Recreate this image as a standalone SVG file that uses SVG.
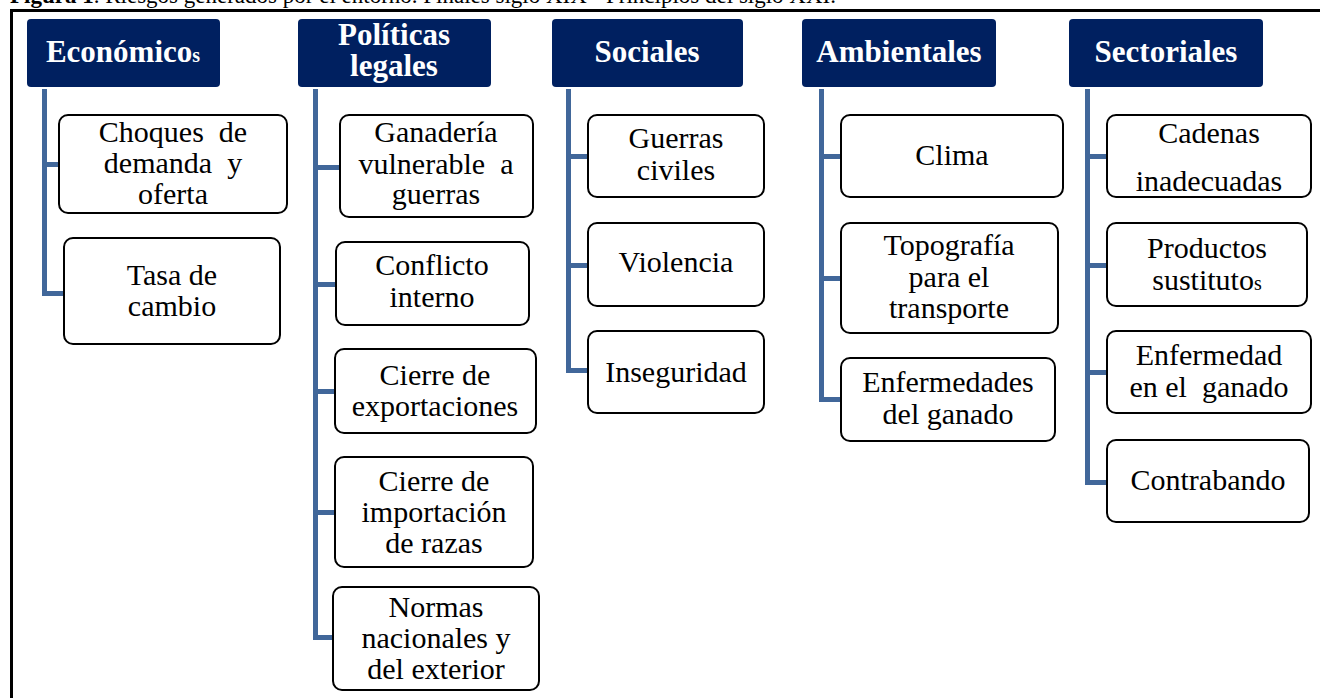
<svg xmlns="http://www.w3.org/2000/svg" width="1320" height="698" viewBox="0 0 1320 698" font-family="'Liberation Serif', 'Times New Roman', Times, serif">
<style>
.frame{fill:none;stroke:#000;stroke-width:3}
.hdr{fill:#002060}
.ht{font-family:'Liberation Serif','Times New Roman',Times,serif;font-weight:bold;font-size:31px;fill:#fff;text-anchor:middle}
.box{fill:#fff;stroke:#000;stroke-width:2}
.bt{font-family:'Liberation Serif','Times New Roman',Times,serif;font-size:30px;fill:#000;text-anchor:middle}
.pre{white-space:pre}
.conn{fill:none;stroke:#41679A;stroke-width:5;stroke-linejoin:miter}
.cap{font-family:'Liberation Serif','Times New Roman',Times,serif;font-size:23px;fill:#000}
.sm{font-size:20px}
</style>
<rect width="1320" height="698" fill="#fff"/>
<text class="cap" x="10" y="3"><tspan font-weight="bold">Figura 1</tspan>. Riesgos generados por el entorno. Finales siglo XIX - Principios del siglo XXI.</text>
<path class="frame" d="M11.5 710 V10.5 H1330"/>
<g id="connectors">
<path class="conn" d="M44.5 89 V293.5 H64 M44.5 164.5 H59"/>
<path class="conn" d="M315.5 89 V637.5 H333 M315.5 167.5 H340 M315.5 284.5 H336 M315.5 391.5 H335 M315.5 512.5 H335"/>
<path class="conn" d="M568.5 89 V370.5 H588 M568.5 156.5 H588 M568.5 265.5 H588"/>
<path class="conn" d="M821.5 89 V399.5 H841 M821.5 156.5 H841 M821.5 278.5 H841"/>
<path class="conn" d="M1087.5 89 V482.5 H1107 M1087.5 156.5 H1107 M1087.5 265.5 H1107 M1087.5 372.5 H1107"/>
</g>
<g id="economicos">
<rect class="hdr" x="27" y="19" width="193" height="68" rx="4"/>
<text class="ht" x="123" y="62">Económico<tspan class="sm">s</tspan></text>
</g>
<g id="choques">
<rect class="box" x="59" y="115" width="228" height="98" rx="9"/>
<text class="bt pre" x="173" y="142">Choques  de</text>
<text class="bt pre" x="173" y="173">demanda  y</text>
<text class="bt" x="173" y="204">oferta</text>
</g>
<g id="tasa">
<rect class="box" x="64" y="238" width="216" height="106" rx="9"/>
<text class="bt" x="172" y="285">Tasa de</text>
<text class="bt" x="172" y="316">cambio</text>
</g>
<g id="politicas">
<rect class="hdr" x="298" y="19" width="193" height="68" rx="4"/>
<text class="ht" x="394" y="45">Políticas</text>
<text class="ht" x="394" y="76">legales</text>
</g>
<g id="ganaderia">
<rect class="box" x="340" y="115" width="193" height="102" rx="9"/>
<text class="bt" x="436" y="142">Ganadería</text>
<text class="bt pre" x="436" y="174">vulnerable  a</text>
<text class="bt" x="436" y="204">guerras</text>
</g>
<g id="conflicto">
<rect class="box" x="336" y="242" width="193" height="83" rx="9"/>
<text class="bt" x="432" y="275">Conflicto</text>
<text class="bt" x="432" y="307">interno</text>
</g>
<g id="exportaciones">
<rect class="box" x="335" y="349" width="201" height="84" rx="9"/>
<text class="bt" x="435" y="385">Cierre de</text>
<text class="bt" x="435" y="416">exportaciones</text>
</g>
<g id="importacion">
<rect class="box" x="335" y="457" width="198" height="110" rx="9"/>
<text class="bt" x="434" y="491">Cierre de</text>
<text class="bt" x="434" y="522">importación</text>
<text class="bt" x="434" y="553">de razas</text>
</g>
<g id="normas">
<rect class="box" x="333" y="587" width="206" height="103" rx="9"/>
<text class="bt" x="436" y="617">Normas</text>
<text class="bt" x="436" y="648">nacionales y</text>
<text class="bt" x="436" y="679">del exterior</text>
</g>
<g id="sociales">
<rect class="hdr" x="552" y="19" width="191" height="68" rx="4"/>
<text class="ht" x="647" y="62">Sociales</text>
</g>
<g id="guerras">
<rect class="box" x="588" y="115" width="176" height="82" rx="9"/>
<text class="bt" x="676" y="148">Guerras</text>
<text class="bt" x="676" y="180">civiles</text>
</g>
<g id="violencia">
<rect class="box" x="588" y="223" width="176" height="83" rx="9"/>
<text class="bt" x="676" y="272">Violencia</text>
</g>
<g id="inseguridad">
<rect class="box" x="588" y="331" width="176" height="82" rx="9"/>
<text class="bt" x="676" y="382">Inseguridad</text>
</g>
<g id="ambientales">
<rect class="hdr" x="802" y="19" width="194" height="68" rx="4"/>
<text class="ht" x="899" y="62">Ambientales</text>
</g>
<g id="clima">
<rect class="box" x="841" y="115" width="222" height="82" rx="9"/>
<text class="bt" x="952" y="165">Clima</text>
</g>
<g id="topografia">
<rect class="box" x="841" y="223" width="217" height="110" rx="9"/>
<text class="bt" x="949" y="255">Topografía</text>
<text class="bt" x="949" y="287">para el</text>
<text class="bt" x="949" y="318">transporte</text>
</g>
<g id="enfermedades">
<rect class="box" x="841" y="358" width="214" height="83" rx="9"/>
<text class="bt" x="948" y="392">Enfermedades</text>
<text class="bt" x="948" y="424">del ganado</text>
</g>
<g id="sectoriales">
<rect class="hdr" x="1069" y="19" width="194" height="68" rx="4"/>
<text class="ht" x="1166" y="62">Sectoriales</text>
</g>
<g id="cadenas">
<rect class="box" x="1107" y="115" width="204" height="82" rx="9"/>
<text class="bt" x="1209" y="143">Cadenas</text>
<text class="bt" x="1209" y="191">inadecuadas</text>
</g>
<g id="productos">
<rect class="box" x="1107" y="223" width="200" height="83" rx="9"/>
<text class="bt" x="1207" y="258">Productos</text>
<text class="bt" x="1207" y="290">sustituto<tspan class="sm">s</tspan></text>
</g>
<g id="enfermedad">
<rect class="box" x="1107" y="331" width="204" height="82" rx="9"/>
<text class="bt" x="1209" y="365">Enfermedad</text>
<text class="bt pre" x="1209" y="397">en el  ganado</text>
</g>
<g id="contrabando">
<rect class="box" x="1107" y="440" width="202" height="82" rx="9"/>
<text class="bt" x="1208" y="490">Contrabando</text>
</g>
</svg>
